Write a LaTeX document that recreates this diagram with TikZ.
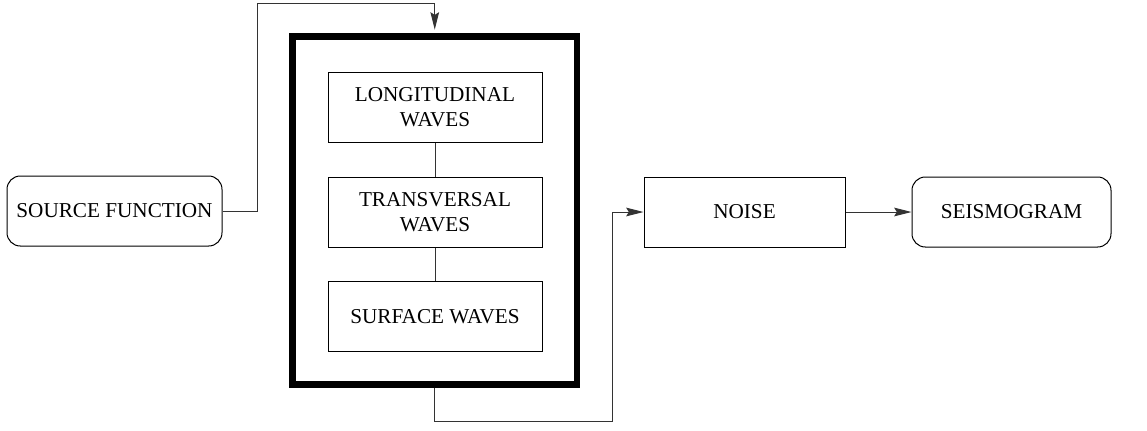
\documentclass[tikz,border=0pt]{standalone}
\usepackage{fontspec}
\setmainfont{Liberation Serif}
\usetikzlibrary{arrows.meta}
\begin{document}
\begin{tikzpicture}[x=0.75pt,y=-0.75pt,
  every node/.style={font=\fontsize{15.9}{19}\selectfont, align=center, inner sep=0pt},
  rbox/.style={draw, line width=0.75pt, rounded corners=10pt, minimum height=52.5pt},
  sbox/.style={draw, line width=0.75pt, minimum height=52.5pt},
  thick/.style={draw, line width=5.2pt},
  link/.style={line width=0.75pt, draw=black!80},
  arr/.style={link, -{Stealth[length=13pt,width=6.5pt,inset=2pt]}}]
\useasboundingbox (0,0) rectangle (1147,430);
\node[rbox, minimum width=161.25pt] (src) at (114.5,211) {SOURCE FUNCTION};
\node[thick, minimum width=213.4pt, minimum height=261pt] (big) at (434.75,210.5) {};
\node[sbox, minimum width=160.5pt] (lon) at (435,107) {LONGITUDINAL\\WAVES};
\node[sbox, minimum width=160.5pt] (tra) at (435,212) {TRANSVERSAL\\WAVES};
\node[sbox, minimum width=160.5pt] (sur) at (435,316.5) {SURFACE WAVES};
\node[sbox, minimum width=150.75pt] (noise) at (744.5,212) {NOISE};
\node[rbox, minimum width=149.25pt] (seis) at (1011.5,212) {SEISMOGRAM};
\coordinate (t1) at (257,3);
\coordinate (b1) at (612,421);
\draw[link] (lon.south) -- (tra.north);
\draw[link] (tra.south) -- (sur.north);
\draw[arr, shorten >=2.6pt] (src.east) -| (t1) -| (big.north);
\draw[arr] (big.south) |- (b1) |- (noise.west);
\draw[arr] (noise.east) -- (seis.west);
\end{tikzpicture}
\end{document}
